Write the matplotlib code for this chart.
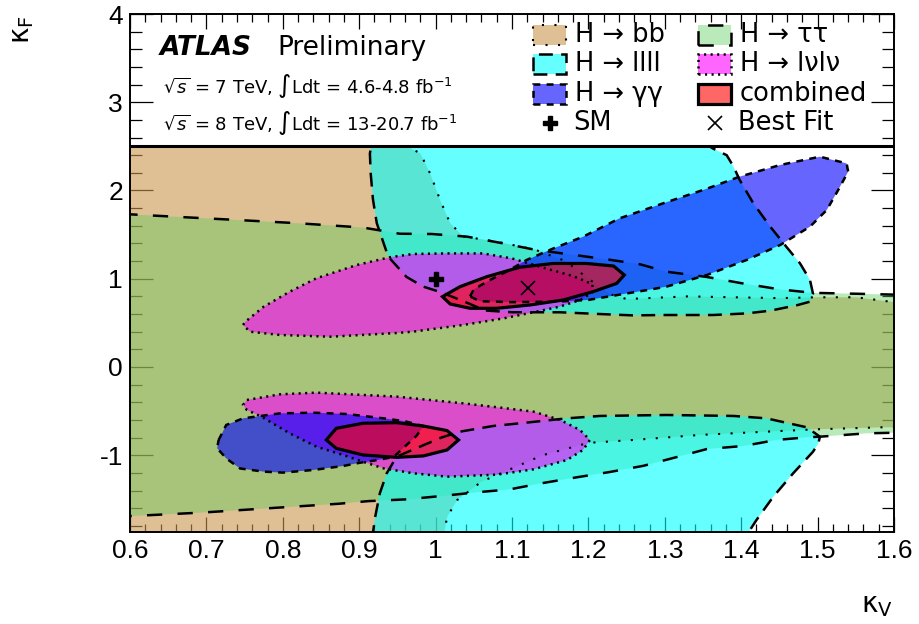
import matplotlib
matplotlib.use('Agg')
import matplotlib.pyplot as plt
from matplotlib.patches import Polygon, Rectangle
from matplotlib.ticker import FixedLocator, MultipleLocator

plt.rcParams['font.family'] = ['DejaVu Sans']
plt.rcParams['mathtext.fontset'] = 'dejavusans'
plt.rcParams['lines.scale_dashes'] = False

# 68% CL contours in the (kappa_V, kappa_F) plane
bb = [(0.55, 2.7), (0.955, 2.7), (0.963, 2.5), (0.98, 2.42), (0.993, 2.19), (1.006, 1.89),
      (1.019, 1.63), (1.036, 1.48), (1.08, 1.42), (1.13, 1.33), (1.17, 1.2), (1.2, 1.0),
      (1.23, 0.82), (1.25, 0.77), (1.33, 0.80), (1.45, 0.78), (1.5, 0.79), (1.55, 0.79),
      (1.6, 0.735), (1.65, 0.73), (1.65, -0.683), (1.586, -0.683), (1.542, -0.695),
      (1.499, -0.706), (1.433, -0.733), (1.346, -0.77), (1.259, -0.827), (1.2, -0.86),
      (1.14, -1.0), (1.1, -1.15), (1.06, -1.3), (1.028, -1.51), (1.015, -1.7), (1.01, -1.95),
      (0.55, -1.95)]

tautau = [(0.55, 1.74), (0.6, 1.73), (0.643, 1.71), (0.731, 1.67), (0.818, 1.63), (0.905, 1.58),
          (0.953, 1.51), (0.995, 1.507), (1.041, 1.477), (1.089, 1.40), (1.128, 1.332),
          (1.172, 1.28), (1.224, 1.22), (1.268, 1.163), (1.302, 1.08), (1.355, 1.02),
          (1.40, 0.95), (1.45, 0.88), (1.494, 0.84), (1.55, 0.83), (1.6, 0.82), (1.65, 0.82),
          (1.65, -0.745), (1.6, -0.745), (1.564, -0.752), (1.503, -0.79), (1.486, -0.797),
          (1.446, -0.827), (1.403, -0.895), (1.355, -0.93), (1.316, -1.02), (1.272, -1.12),
          (1.228, -1.19), (1.185, -1.25), (1.137, -1.32), (1.097, -1.387), (1.054, -1.42),
          (1.01, -1.46), (0.962, -1.5), (0.912, -1.52), (0.873, -1.55), (0.783, -1.6),
          (0.694, -1.65), (0.6, -1.69), (0.55, -1.7)]

llll_up = [(0.92, 2.7), (0.914, 2.42), (0.915, 2.2), (0.918, 1.9), (0.923, 1.63), (0.938, 1.25),
           (0.962, 1.02), (0.984, 0.91), (1.006, 0.85), (1.035, 0.75), (1.065, 0.64), (1.1, 0.62),
           (1.163, 0.62), (1.215, 0.6), (1.258, 0.585), (1.302, 0.589), (1.363, 0.589),
           (1.407, 0.607), (1.438, 0.638), (1.473, 0.7), (1.49, 0.74), (1.494, 0.83),
           (1.49, 0.986), (1.477, 1.174), (1.459, 1.363), (1.438, 1.59), (1.416, 1.853),
           (1.398, 2.119), (1.39, 2.27), (1.381, 2.4), (1.363, 2.476), (1.34, 2.6), (1.3, 2.7)]

llll_dn = [(0.918, -1.95), (0.918, -1.88), (0.921, -1.696), (0.927, -1.432), (0.936, -1.205),
           (0.949, -1.016), (1.008, -0.798), (1.032, -0.733), (1.075, -0.669), (1.114, -0.635),
           (1.172, -0.582), (1.215, -0.555), (1.302, -0.544), (1.39, -0.555), (1.433, -0.582),
           (1.486, -0.684), (1.503, -0.79), (1.501, -0.866), (1.494, -0.96), (1.468, -1.205),
           (1.442, -1.47), (1.42, -1.734), (1.409, -1.88), (1.4, -1.95)]

lvlv_up = [(0.748, 0.476), (0.751, 0.513), (0.775, 0.683), (0.809, 0.853), (0.844, 1.005),
           (0.897, 1.156), (0.94, 1.243), (0.97, 1.28), (1.013, 1.287), (1.062, 1.287),
           (1.1, 1.23), (1.147, 1.11), (1.18, 1.03), (1.205, 0.94), (1.206, 0.853), (1.19, 0.76),
           (1.162, 0.683), (1.132, 0.627), (1.089, 0.551), (1.036, 0.476), (0.97, 0.40),
           (0.949, 0.385), (0.862, 0.343), (0.796, 0.363), (0.757, 0.40)]

lvlv_dn = [(0.753, -0.374), (0.796, -0.31), (0.844, -0.291), (0.949, -0.336), (1.036, -0.412),
           (1.084, -0.46), (1.128, -0.506), (1.163, -0.6), (1.189, -0.714), (1.202, -0.827),
           (1.193, -0.94), (1.172, -1.054), (1.128, -1.16), (1.08, -1.22), (1.015, -1.243),
           (0.971, -1.205), (0.932, -1.149), (0.905, -1.074), (0.879, -0.997), (0.844, -0.903),
           (0.809, -0.752), (0.772, -0.563), (0.753, -0.487), (0.748, -0.43)]

gg_up = [(1.045, 0.8), (1.05, 0.88), (1.07, 0.98), (1.095, 1.09), (1.119, 1.212), (1.154, 1.343),
         (1.193, 1.476), (1.241, 1.685), (1.298, 1.855), (1.355, 2.02), (1.398, 2.157),
         (1.451, 2.289), (1.503, 2.383), (1.538, 2.307), (1.54, 2.213), (1.527, 2.006),
         (1.512, 1.779), (1.49, 1.59), (1.451, 1.382), (1.407, 1.212), (1.355, 1.042),
         (1.302, 0.91), (1.276, 0.87), (1.25, 0.833), (1.2, 0.76), (1.158, 0.74), (1.1, 0.735),
         (1.058, 0.745)]

gg_dn = [(0.716, -0.827), (0.726, -0.657), (0.748, -0.582), (0.796, -0.526), (0.84, -0.518),
         (0.884, -0.533), (0.932, -0.582), (0.96, -0.615), (0.984, -0.67), (0.975, -0.78),
         (0.96, -0.9), (0.945, -1.02), (0.92, -1.06), (0.901, -1.085), (0.879, -1.122),
         (0.84, -1.167), (0.8, -1.197), (0.775, -1.186), (0.744, -1.15), (0.726, -1.036),
         (0.714, -0.92)]

comb_up = [(1.009, 0.797), (1.032, 0.91), (1.067, 1.023), (1.11, 1.13), (1.154, 1.173),
           (1.198, 1.173), (1.233, 1.144), (1.247, 1.042), (1.237, 0.947), (1.206, 0.853),
           (1.167, 0.759), (1.124, 0.703), (1.08, 0.665), (1.045, 0.665), (1.019, 0.714)]

comb_dn = [(0.857, -0.827), (0.87, -0.695), (0.905, -0.638), (0.949, -0.631), (0.984, -0.669),
           (1.015, -0.721), (1.03, -0.827), (1.015, -0.94), (0.984, -1.008), (0.949, -1.024),
           (0.905, -0.997), (0.87, -0.922)]

sm_point = (1.0, 1.0)
best_fit = (1.121, 0.891)

x_ticks = [0.6, 0.7, 0.8, 0.9, 1.0, 1.1, 1.2, 1.3, 1.4, 1.5, 1.6]
x_tick_labels = ['0.6', '0.7', '0.8', '0.9', '1', '1.1', '1.2', '1.3', '1.4', '1.5', '1.6']
y_ticks = [-1, 0, 1, 2, 3, 4]
y_tick_labels = ['-1', '0', '1', '2', '3', '4']

# label, contours, colour, alpha, dash pattern, line width
channels = [
    ('H \u2192 bb', [bb], (202/255, 150/255, 77/255), 0.6, (0, (1.5, 7.5)), 1.5),
    ('H \u2192 \u03c4\u03c4', [tautau], (84/255, 203/255, 84/255), 0.4, (0, (11, 11)), 1.8),
    ('H \u2192 llll', [llll_up, llll_dn], (0, 1, 1), 0.6, (0, (10, 6)), 1.8),
    ('H \u2192 l\u03bdl\u03bd', [lvlv_up, lvlv_dn], (1, 0, 1), 0.6, (0, (1.5, 3.2)), 1.8),
    ('H \u2192 \u03b3\u03b3', [gg_up, gg_dn], (0, 0, 1), 0.6, (0, (5, 4.5)), 1.8),
    ('combined', [comb_up, comb_dn], (1, 0, 0), 0.6, 'solid', 2.3),
]
# legend slot (column, row) for each channel above
legend_slots = [(0, 0), (1, 0), (0, 1), (1, 1), (0, 2), (1, 2)]

fig = plt.figure(figsize=(9.19, 6.24), dpi=100)
ax = fig.add_axes([130/919, 1 - 532/624, 764/919, 518/624])
ax.set_xlim(0.6, 1.6)
ax.set_ylim(-1.87, 4)

# contours are only drawn below the legend area
clip = Rectangle((0.6, -1.87), 1.0, 4.37, transform=ax.transData)

for name, contours, col, a, ls, lw in channels:
    for pts in contours:
        face = Polygon(pts, closed=True, facecolor=col, alpha=a, edgecolor='none', zorder=2)
        ax.add_patch(face)
        face.set_clip_path(clip)
for name, contours, col, a, ls, lw in channels:
    for pts in contours:
        edge = Polygon(pts, closed=True, fill=False, edgecolor='black', linestyle=ls,
                       linewidth=lw, zorder=5)
        ax.add_patch(edge)
        edge.set_clip_path(clip)

ax.plot(*sm_point, marker='P', color='black', markersize=10, zorder=7)
ax.plot(*best_fit, marker='x', color='black', markersize=10, mew=1.2, zorder=7)

# separator between plot and legend area
ax.axhline(2.5, color='black', lw=2.2, zorder=6)

# axes, ticks
ax.set_axisbelow(True)
for s in ax.spines.values():
    s.set_linewidth(1.4)
    s.set_zorder(10)
ax.xaxis.set_major_locator(FixedLocator(x_ticks))
ax.xaxis.set_minor_locator(MultipleLocator(0.02))
ax.yaxis.set_major_locator(FixedLocator(y_ticks))
ax.yaxis.set_minor_locator(MultipleLocator(0.2))
ax.set_xticklabels(x_tick_labels, fontfamily='Liberation Sans', fontsize=19)
ax.set_yticklabels(y_tick_labels, fontfamily='Liberation Sans', fontsize=19)
ax.tick_params(axis='both', which='both', direction='in', top=True, right=True, width=0.9)
ax.tick_params(axis='x', which='major', length=11, pad=5)
ax.tick_params(axis='x', which='minor', length=5.5)
ax.tick_params(axis='y', which='major', length=16.5, pad=5)
ax.tick_params(axis='y', which='minor', length=8.5)

fig.text(22/919, 1 - 30/624, '\u03ba$_{\\mathrm{F}}$', rotation=90, fontsize=20,
         ha='center', va='center')
fig.text(893/919, 1 - 605/624, '\u03ba$_{\\mathrm{V}}$', fontsize=20, ha='right', va='center')

# ATLAS label
ax.text(0.639, 3.615, 'ATLAS', fontsize=19, fontweight='bold', fontstyle='italic',
        va='center', zorder=8)
ax.text(0.7924, 3.615, 'Preliminary', fontsize=19, va='center', zorder=8)
ax.text(0.643, 3.18, r'$\sqrt{s}$ = 7 TeV, $\int$Ldt = 4.6-4.8 fb$^{-1}$', fontsize=13,
        va='center', zorder=8)
ax.text(0.643, 2.77, r'$\sqrt{s}$ = 8 TeV, $\int$Ldt = 13-20.7 fb$^{-1}$', fontsize=13,
        va='center', zorder=8)

# legend
row_y = [3.762, 3.428, 3.093]
col_x = [1.1275, 1.3435]
box_w, box_h = 0.0432, 0.227
for (name, contours, col, a, ls, lw), (c, r) in zip(channels, legend_slots):
    x0 = col_x[c]
    yc = row_y[r]
    ax.add_patch(Rectangle((x0, yc - box_h/2), box_w, box_h, facecolor=col, alpha=a,
                           edgecolor='none', zorder=8, clip_on=False))
    ax.add_patch(Rectangle((x0, yc - box_h/2), box_w, box_h, fill=False, edgecolor='black',
                           linestyle=ls, linewidth=lw, zorder=9, clip_on=False))
    ax.text(x0 + 0.055, yc, name, fontsize=18.5, va='center', zorder=9)

ax.plot(1.1497, 2.765, marker='P', color='black', markersize=10, zorder=9, clip_on=False)
ax.text(1.18, 2.765, 'SM', fontsize=18.5, va='center', zorder=9)
ax.plot(1.3657, 2.765, marker='x', color='black', markersize=10, mew=1.2, zorder=9,
        clip_on=False)
ax.text(1.3958, 2.765, 'Best Fit', fontsize=18.5, va='center', zorder=9)

fig.savefig('out.png', dpi=100)
